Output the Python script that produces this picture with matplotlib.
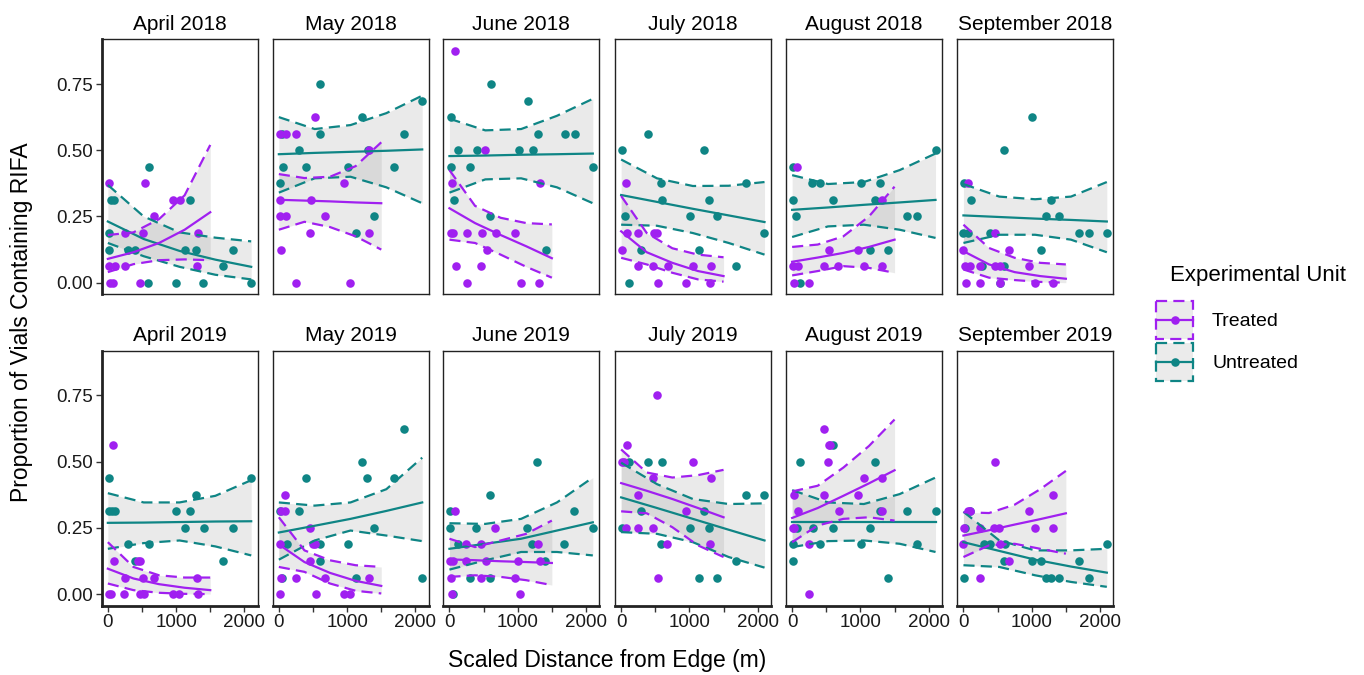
import numpy as np
import matplotlib
matplotlib.use("Agg")
import matplotlib.pyplot as plt
from matplotlib.patches import Rectangle

plt.rcParams['font.family'] = ['Liberation Sans', 'DejaVu Sans']

# facets, row by row
months = ["April 2018", "May 2018", "June 2018", "July 2018", "August 2018", "September 2018",
          "April 2019", "May 2019", "June 2019", "July 2019", "August 2019", "September 2019"]

# vials out of 16 containing RIFA, with scaled distance (m)
VIALS = 16

treated_x = [
    [20, 540, 670, 245, 510, 955, 1055, 1323, 10, 100, 245, 1308, 34, 73, 465],
    [534, 10, 108, 255, 1318, 960, 10, 470, 20, 108, 671, 461, 1318, 30, 255, 1049],
    [83, 524, 34, 1333, 20, 49, 255, 475, 681, 965, 549, 98, 466, 255, 1049, 1318],
    [73, 93, 240, 485, 524, 10, 240, 466, 681, 1049, 1323, 539, 956, 1308],
    [69, 1318, 534, 960, 10, 93, 461, 671, 1049, 1318, 29, 250],
    [73, 466, 0, 671, 25, 98, 245, 466, 529, 956, 34, 245, 529, 1044, 1313],
    [73, 93, 441, 466, 245, 515, 671, 1308, 10, 44, 240, 466, 524, 955, 1039, 1318],
    [93, 29, 93, 461, 20, 500, 534, 451, 29, 255, 681, 1318, 10, 544, 951, 1049],
    [88, 671, 245, 456, 1298, 10, 59, 245, 529, 1005, 1323, 25, 456, 956, 34, 1039],
    [524, 93, 10, 44, 1049, 466, 1323, 245, 956, 73, 245, 461, 671, 1308, 539],
    [470, 534, 559, 519, 1049, 1318, 29, 461, 960, 93, 681, 1318, 10, 29, 250, 250],
    [466, 1313, 73, 98, 956, 10, 245, 451, 515, 1044, 1313, 0, 539, 671, 245],
]
treated_k = [
    [6, 6, 4, 3, 3, 5, 5, 3, 1, 1, 1, 1, 0, 0, 0],
    [10, 9, 9, 9, 8, 6, 5, 5, 4, 4, 4, 3, 3, 2, 0, 0],
    [14, 8, 6, 6, 3, 3, 3, 3, 3, 3, 2, 1, 1, 0, 0, 0],
    [6, 3, 3, 3, 3, 2, 1, 1, 1, 1, 1, 0, 0, 0],
    [7, 5, 2, 2, 1, 1, 1, 1, 1, 1, 0, 0],
    [6, 3, 2, 2, 1, 1, 1, 1, 1, 1, 0, 0, 0, 0, 0],
    [9, 2, 2, 2, 1, 1, 1, 1, 0, 0, 0, 0, 0, 0, 0, 0],
    [6, 5, 5, 4, 3, 3, 3, 2, 1, 1, 1, 1, 0, 0, 0, 0],
    [5, 4, 3, 3, 3, 2, 2, 2, 2, 2, 2, 1, 1, 1, 0, 0],
    [12, 9, 8, 8, 8, 7, 7, 6, 5, 4, 4, 4, 3, 3, 1],
    [10, 9, 9, 8, 7, 7, 6, 6, 6, 5, 5, 5, 4, 4, 3, 0],
    [8, 6, 5, 5, 5, 4, 4, 4, 4, 4, 4, 3, 3, 2, 1],
]
untreated_x = [
    [598, 44, 93, 1210, 10, 10, 294, 392, 1137, 1284, 1838, 1690, 588, 1005, 1397, 2102],
    [598, 1220, 2102, 44, 598, 1833, 299, 1303, 59, 402, 1009, 1686, 20, 1401, 1137],
    [608, 1147, 20, 1294, 1691, 1838, 122, 402, 1014, 1225, 20, 304, 2107, 69, 598, 1411],
    [392, 10, 1210, 588, 1833, 598, 1284, 59, 1005, 1397, 2092, 294, 1137, 1686, 108],
    [10, 2102, 289, 402, 1009, 1284, 10, 593, 1220, 59, 1686, 1833, 1137, 1401, 118],
    [1009, 598, 10, 108, 1284, 1215, 1397, 0, 73, 392, 1690, 1838, 2097, 1137, 279, 588, 539],
    [20, 2102, 1284, 10, 59, 108, 1005, 1210, 1137, 1406, 1838, 294, 598, 392, 1690],
    [1833, 1220, 397, 1284, 1686, 10, 299, 1401, 118, 598, 1009, 598, 44, 1137, 2102],
    [1284, 598, 10, 1828, 10, 392, 1137, 2097, 122, 1215, 1681, 1396, 294, 588, 59],
    [118, 392, 598, 1833, 2092, 294, 1220, 10, 1005, 1284, 588, 1686, 1137, 1397],
    [598, 118, 1220, 1284, 1686, 2102, 69, 304, 593, 1137, 10, 402, 1009, 1833, 10, 1401],
    [98, 25, 294, 392, 603, 2097, 588, 1005, 1142, 1691, 1215, 1289, 1397, 1838, 10],
]
untreated_k = [
    [7, 5, 5, 5, 3, 2, 2, 2, 2, 2, 2, 1, 0, 0, 0, 0],
    [12, 10, 11, 9, 9, 9, 8, 8, 7, 7, 7, 7, 6, 4, 3],
    [12, 11, 10, 9, 9, 9, 8, 8, 8, 8, 7, 7, 7, 5, 4, 2],
    [9, 8, 8, 6, 6, 5, 5, 4, 4, 4, 3, 2, 2, 1, 0],
    [7, 8, 6, 6, 6, 6, 5, 5, 5, 4, 4, 4, 2, 2, 0],
    [10, 8, 6, 5, 5, 4, 4, 3, 3, 3, 3, 3, 3, 2, 1, 1, 0],
    [7, 7, 6, 5, 5, 5, 5, 5, 4, 4, 4, 3, 3, 2, 2],
    [10, 8, 7, 7, 7, 5, 5, 4, 3, 3, 3, 2, 1, 1, 1],
    [8, 6, 5, 5, 4, 4, 4, 4, 3, 3, 3, 2, 1, 1, 0],
    [8, 8, 8, 6, 6, 5, 5, 4, 4, 4, 3, 2, 1, 1],
    [9, 8, 8, 5, 5, 5, 4, 4, 4, 4, 3, 3, 3, 3, 2, 1],
    [5, 4, 3, 3, 3, 3, 2, 2, 2, 2, 1, 1, 1, 1, 1],
]

# fitted curves with 95% bands, read at a few distances
treated_fit_x = [0, 375, 750, 1125, 1500]
untreated_fit_x = [0, 525, 1050, 1575, 2100]

treated_fit = [
    [0.09, 0.115, 0.15, 0.2, 0.266], [0.313, 0.31, 0.307, 0.303, 0.30],
    [0.281, 0.225, 0.18, 0.1375, 0.0925], [0.194, 0.115, 0.075, 0.044, 0.025],
    [0.079, 0.095, 0.1125, 0.135, 0.1625], [0.119, 0.069, 0.04, 0.025, 0.015],
    [0.096, 0.059, 0.0375, 0.024, 0.015], [0.1875, 0.121, 0.08, 0.05, 0.031],
    [0.131, 0.128, 0.124, 0.121, 0.1175], [0.419, 0.39, 0.359, 0.325, 0.29],
    [0.2875, 0.325, 0.371, 0.418, 0.4675], [0.221, 0.241, 0.2625, 0.283, 0.305],
]
treated_lo = [
    [0.04, 0.07, 0.085, 0.088, 0.085], [0.2, 0.23, 0.21, 0.175, 0.125],
    [0.1625, 0.15, 0.106, 0.06, 0.019], [0.094, 0.069, 0.0375, 0.0125, 0.004],
    [0.0275, 0.044, 0.0625, 0.056, 0.0375], [0.05, 0.019, 0.01, 0.003, 0.0],
    [0.04, 0.015, 0.005, 0.001, 0.0], [0.1025, 0.084, 0.04, 0.0125, 0.0025],
    [0.065, 0.071, 0.065, 0.0525, 0.034], [0.3125, 0.305, 0.2525, 0.184, 0.14],
    [0.196, 0.259, 0.284, 0.29, 0.2775], [0.14, 0.184, 0.19, 0.171, 0.1525],
]
treated_hi = [
    [0.18, 0.19, 0.24, 0.33, 0.52], [0.41, 0.395, 0.40, 0.44, 0.53],
    [0.425, 0.29, 0.245, 0.225, 0.22], [0.3275, 0.1875, 0.13, 0.106, 0.096],
    [0.135, 0.144, 0.175, 0.25, 0.3625], [0.219, 0.131, 0.094, 0.075, 0.069],
    [0.196, 0.1025, 0.071, 0.0625, 0.0625], [0.29, 0.165, 0.1275, 0.109, 0.1025],
    [0.209, 0.1775, 0.2025, 0.2275, 0.2775], [0.546, 0.459, 0.44, 0.449, 0.469],
    [0.3875, 0.409, 0.4775, 0.559, 0.659], [0.309, 0.306, 0.3375, 0.396, 0.465],
]
untreated_fit = [
    [0.231, 0.165, 0.12, 0.087, 0.06], [0.485, 0.49, 0.494, 0.498, 0.503],
    [0.478, 0.48, 0.483, 0.485, 0.4875], [0.331, 0.305, 0.279, 0.254, 0.229],
    [0.275, 0.284, 0.294, 0.303, 0.3125], [0.254, 0.248, 0.242, 0.237, 0.231],
    [0.269, 0.27, 0.272, 0.274, 0.275], [0.2325, 0.258, 0.284, 0.314, 0.346],
    [0.171, 0.19, 0.209, 0.24, 0.271], [0.365, 0.325, 0.284, 0.243, 0.2025],
    [0.271, 0.271, 0.271, 0.271, 0.271], [0.196, 0.163, 0.13, 0.104, 0.081],
]
untreated_lo = [
    [0.15, 0.1, 0.06, 0.03, 0.0125], [0.34, 0.394, 0.40, 0.36, 0.30],
    [0.34, 0.39, 0.394, 0.36, 0.30], [0.219, 0.215, 0.1875, 0.15, 0.106],
    [0.1725, 0.2125, 0.219, 0.2, 0.169], [0.15, 0.181, 0.181, 0.1625, 0.115],
    [0.171, 0.1925, 0.2025, 0.18, 0.146], [0.13, 0.2025, 0.24, 0.221, 0.2],
    [0.0925, 0.1275, 0.159, 0.159, 0.146], [0.234, 0.2275, 0.196, 0.14, 0.1],
    [0.1775, 0.2, 0.2025, 0.19, 0.159], [0.109, 0.1025, 0.071, 0.046, 0.0275],
]
untreated_hi = [
    [0.369, 0.25, 0.19, 0.17, 0.156], [0.625, 0.58, 0.595, 0.64, 0.706],
    [0.619, 0.575, 0.58, 0.63, 0.694], [0.465, 0.394, 0.365, 0.366, 0.38],
    [0.406, 0.3725, 0.38, 0.425, 0.4875], [0.3725, 0.325, 0.315, 0.325, 0.38],
    [0.381, 0.346, 0.346, 0.371, 0.43], [0.346, 0.334, 0.346, 0.396, 0.515],
    [0.2675, 0.265, 0.284, 0.346, 0.44], [0.496, 0.415, 0.359, 0.34, 0.3425],
    [0.3925, 0.346, 0.34, 0.3775, 0.44], [0.311, 0.2025, 0.165, 0.165, 0.171],
]

TREATED = '#A020F0'
UNTREATED = '#0F8585'
BAND = '#999999'
DASH = (0, (5, 2.8))
LW = 1.6

W, H = 1364, 675
fig = plt.figure(figsize=(W / 100, H / 100), dpi=100)

col_left = [101.7, 272.7, 443.3, 615.0, 786.0, 957.3]
row_top = [39.3, 350.7]
pw, ph = 156, 255


def draw_group(ax, fx, fit, lo, hi, px, pk, color):
    ax.fill_between(fx, lo, hi, color=BAND, alpha=0.2, lw=0, zorder=1)
    ax.scatter(px, np.array(pk) / VIALS, s=38, color=color, lw=0, zorder=2)
    ax.plot(fx, fit, color=color, lw=LW, zorder=3)
    ax.plot(fx, lo, color=color, lw=LW, ls=DASH, zorder=3)
    ax.plot(fx, hi, color=color, lw=LW, ls=DASH, zorder=3)


for i, month in enumerate(months):
    r, c = divmod(i, 6)
    ax = fig.add_axes([col_left[c] / W, 1 - (row_top[r] + ph) / H, pw / W, ph / H])
    draw_group(ax, untreated_fit_x, untreated_fit[i], untreated_lo[i], untreated_hi[i],
               untreated_x[i], untreated_k[i], UNTREATED)
    draw_group(ax, treated_fit_x, treated_fit[i], treated_lo[i], treated_hi[i],
               treated_x[i], treated_k[i], TREATED)

    ax.set_xlim(-90, 2195)
    ax.set_ylim(-0.04375, 0.91875)
    ax.set_xticks([0, 1000, 2000])
    ax.set_xticks([500, 1500], minor=True)
    ax.set_yticks([0, 0.25, 0.5, 0.75])
    ax.set_yticklabels(["0.00", "0.25", "0.50", "0.75"])
    ax.tick_params(which='both', length=4, width=1.0, pad=2, labelsize=13.5,
                   color='#333333', labelcolor='#1a1a1a')
    ax.set_title(month, fontsize=15, pad=7)
    for s in ax.spines.values():
        s.set_linewidth(1.0)
        s.set_color('#222222')
    if c == 0:
        ax.spines['left'].set_linewidth(2.0)
    else:
        ax.tick_params(which='both', left=False, labelleft=False)
    if r == 1:
        ax.spines['bottom'].set_linewidth(2.0)
    else:
        ax.tick_params(which='both', bottom=False, labelbottom=False)

fig.text(607 / W, 1 - 661 / H, "Scaled Distance from Edge (m)", fontsize=16.5,
         ha='center', va='center')
fig.text(22 / W, 1 - 322 / H, "Proportion of Vials Containing RIFA", fontsize=16.5,
         ha='center', va='center', rotation=90)

# legend drawn in pixel space
leg = fig.add_axes([0, 0, 1, 1])
leg.set_xlim(0, W)
leg.set_ylim(H, 0)
leg.axis('off')
leg.text(1170, 275, "Experimental Unit", fontsize=16, ha='left', va='center')
for top, label, color in [(301, "Treated", TREATED), (343, "Untreated", UNTREATED)]:
    leg.add_patch(Rectangle((1156, top), 37, 38, facecolor='#EBEBEB', edgecolor=color,
                            lw=LW, ls=DASH))
    leg.plot([1156, 1193], [top + 19, top + 19], color=color, lw=LW)
    leg.scatter([1174.5], [top + 19], s=38, color=color, lw=0)
    leg.text(1212, top + 20, label, fontsize=14, ha='left', va='center')

fig.savefig("out.png", dpi=100)
